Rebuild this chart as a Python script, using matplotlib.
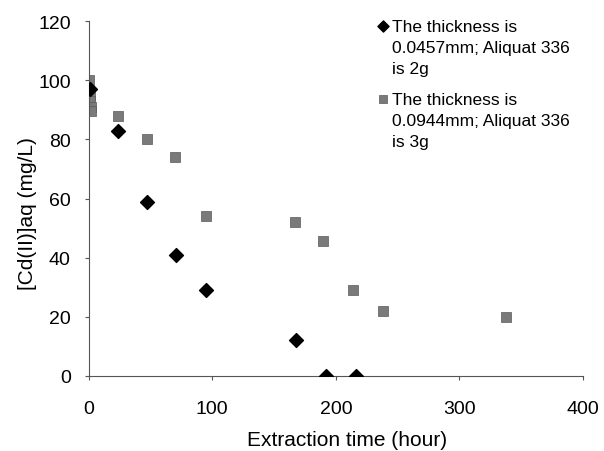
import matplotlib
matplotlib.use("Agg")
import matplotlib.pyplot as plt

plt.rcParams['font.family'] = ['Liberation Sans', 'DejaVu Sans']

# Series 1: thickness 0.0457 mm, Aliquat 336 = 2 g
thin_time = [1, 24, 47, 71, 95, 168, 192, 216]
thin_conc = [97, 83, 59, 41, 29, 12, 0, 0]

# Series 2: thickness 0.0944 mm, Aliquat 336 = 3 g
thick_time = [0, 1, 1, 1.5, 2, 24, 47, 70, 95, 167, 190, 214, 238, 338]
thick_conc = [100, 95, 93, 91, 89.5, 88, 80, 74, 54, 52, 45.5, 29, 22, 20]

thin_label = "The thickness is\n0.0457mm; Aliquat 336\nis 2g"
thick_label = "The thickness is\n0.0944mm; Aliquat 336\nis 3g"

THIN_STYLE = dict(marker='D', s=50, color='black')
THICK_STYLE = dict(marker='s', s=62, color='#7a7a7a', edgecolors='#5a5a5a', linewidths=0.5)

fig = plt.figure(figsize=(6.04, 4.52), dpi=100)
ax = fig.add_axes([0.147, 0.166, 0.818, 0.785])

ax.scatter(thin_time, thin_conc, zorder=3, **THIN_STYLE)
ax.scatter(thick_time, thick_conc, zorder=2, **THICK_STYLE)

ax.set_xlim(0, 400)
ax.set_ylim(0, 120)
ax.set_xticks([0, 100, 200, 300, 400])
ax.set_yticks([0, 20, 40, 60, 80, 100, 120])
ax.spines['top'].set_visible(False)
ax.spines['right'].set_visible(False)
for s in ('left', 'bottom'):
    ax.spines[s].set_color('#555555')
    ax.spines[s].set_linewidth(0.8)
ax.tick_params(direction='out', length=3, color='#555555', labelsize=14)
ax.tick_params(axis='y', pad=10)
ax.tick_params(axis='x', pad=14)

ax.set_xlabel('Extraction time (hour)', fontsize=15)
ax.set_ylabel('[Cd(II)]aq (mg/L)', fontsize=15)
ax.xaxis.set_label_coords(0.522, -0.152)
ax.yaxis.set_label_coords(-0.105, 0.46)

# legend drawn by hand so each marker sits on the first line of its label
for label, style, size, y_text, y_mark in [(thin_label, THIN_STYLE, 32, 1.006, 0.987),
                                           (thick_label, THICK_STYLE, 28, 0.800, 0.780)]:
    ax.scatter([0.595], [y_mark], transform=ax.transAxes, clip_on=False,
               **{**style, 's': size})
    ax.text(0.613, y_text, label, transform=ax.transAxes, fontsize=12.5,
            va='top', ha='left', linespacing=1.5)

fig.savefig('out.png', dpi=100)
